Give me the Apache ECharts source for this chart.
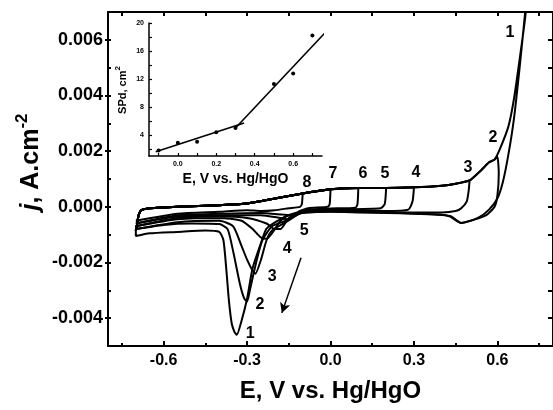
<!DOCTYPE html>
<html><head><meta charset="utf-8">
<script src="https://cdn.jsdelivr.net/npm/echarts@6/dist/echarts.min.js"></script>
<style>html,body{margin:0;padding:0;background:#fff}#c{width:553px;height:410px}</style>
</head><body><div id="c"></div>
<script>
// ---- main chart data: potential E (V vs Hg/HgO), current density j (A/cm2)
// common anodic (forward) sweep
const anodicE = [-0.70,-0.695,-0.69,-0.68,-0.65,-0.60,-0.50,-0.40,-0.30,-0.20,-0.10,0.00,0.10,0.20,0.30,0.40,0.45,0.50,0.54,0.57,0.59,0.61,0.64,0.66,0.68,0.70];
const anodicJ = [-0.00085,-0.0006,-0.0003,-0.00012,-0.00005,-0.00002,0.00002,0.00006,0.00012,0.0003,0.00048,0.00063,0.00068,0.00068,0.0007,0.00076,0.00083,0.00095,0.0013,0.0016,0.0017,0.0021,0.0029,0.0039,0.0053,0.0068];
// reverse sweeps, one per curve (starting at the anodic vertex)
const rev1E = [0.715,0.70,0.68,0.66,0.64,0.62,0.60,0.57,0.53,0.47,0.43,0.40,0.30,0.20,0.10,0.00,-0.10,-0.15,-0.19,-0.23,-0.25,-0.28,-0.30,-0.32,-0.337,-0.345,-0.355,-0.365,-0.375,-0.385,-0.40,-0.45,-0.55,-0.65,-0.70,-0.70];
const rev1J = [0.0085,0.0070,0.0050,0.0032,0.0019,0.0009,0.0003,-0.0001,-0.0004,-0.00058,-0.00035,-0.00028,-0.00025,-0.00022,-0.0002,-0.00018,-0.00022,-0.0003,-0.0005,-0.00078,-0.0013,-0.0022,-0.0033,-0.0041,-0.0046,-0.0045,-0.0042,-0.0034,-0.0022,-0.0012,-0.0009,-0.00085,-0.0009,-0.00095,-0.00105,-0.00085];
const rev2E = [0.60,0.605,0.60,0.59,0.56,0.52,0.47,0.43,0.30,0.00,-0.10,-0.16,-0.21,-0.245,-0.265,-0.29,-0.30,-0.31,-0.325,-0.35,-0.37,-0.40,-0.50,-0.60,-0.70];
const rev2J = [0.0018,0.0012,0.0004,0.0000,-0.0003,-0.00045,-0.00058,-0.00033,-0.00024,-0.00017,-0.0002,-0.0005,-0.0007,-0.0012,-0.0019,-0.0030,-0.0034,-0.0033,-0.0028,-0.0016,-0.0008,-0.00062,-0.0006,-0.00065,-0.0008];
const rev3E = [0.50,0.497,0.49,0.47,0.45,0.40,0.30,0.00,-0.10,-0.16,-0.21,-0.23,-0.25,-0.27,-0.28,-0.30,-0.32,-0.35,-0.40,-0.55,-0.70];
const rev3J = [0.00095,0.0006,0.0002,-0.00005,-0.00015,-0.0002,-0.0002,-0.00015,-0.0002,-0.00055,-0.00085,-0.0012,-0.0019,-0.0024,-0.0023,-0.0019,-0.0014,-0.0007,-0.0005,-0.00055,-0.0008];
const rev4E = [0.30,0.295,0.28,0.20,0.00,-0.10,-0.15,-0.18,-0.20,-0.23,-0.25,-0.28,-0.32,-0.40,-0.55,-0.70];
const rev4J = [0.0007,0.0002,-0.0001,-0.00015,-0.00012,-0.00018,-0.0003,-0.0005,-0.0008,-0.00115,-0.0011,-0.0008,-0.0005,-0.0004,-0.00045,-0.0007];
const rev5E = [0.20,0.195,0.18,0.00,-0.10,-0.15,-0.18,-0.20,-0.23,-0.30,-0.40,-0.55,-0.70];
const rev5J = [0.00068,0.0001,-0.00005,-0.0001,-0.00015,-0.0004,-0.0008,-0.0008,-0.0006,-0.0004,-0.00035,-0.0004,-0.0007];
const rev6E = [0.10,0.097,0.09,0.00,-0.08,-0.12,-0.15,-0.18,-0.25,-0.40,-0.55,-0.70];
const rev6J = [0.00068,0.0001,-0.00003,-0.00006,-0.0001,-0.00025,-0.00045,-0.0004,-0.0003,-0.0003,-0.00035,-0.0006];
const rev7E = [0.00,-0.003,-0.01,-0.08,-0.11,-0.14,-0.17,-0.25,-0.40,-0.55,-0.70];
const rev7J = [0.00063,0.0001,0.0000,-0.00005,-0.00015,-0.0003,-0.00028,-0.00022,-0.00025,-0.0003,-0.0006];
const rev8E = [-0.10,-0.103,-0.11,-0.15,-0.20,-0.25,-0.30,-0.40,-0.55,-0.70];
const rev8J = [0.00048,0.0001,0.0000,-0.00005,-0.00012,-0.00015,-0.00012,-0.00018,-0.00025,-0.0005];

// curve annotations
const topLabels = ['1','2','3','4','5','6','7','8'];
const topLabelE = [0.645,0.584,0.494,0.307,0.196,0.117,0.009,-0.085];
const topLabelJ = [0.00626,0.00248,0.0014,0.00122,0.00119,0.00119,0.00119,0.00086];
const lowLabels = ['5','4','3','2','1'];
const lowLabelE = [-0.095,-0.156,-0.21,-0.254,-0.289];
const lowLabelJ = [-0.00086,-0.00151,-0.00252,-0.00353,-0.00457];
const arrowE = [-0.106,-0.175];
const arrowJ = [-0.00183,-0.00381];

// tick values
const xTickMajor = [-0.6,-0.3,0.0,0.3,0.6];
const xTickMinor = [-0.75,-0.45,-0.15,0.15,0.45,0.75];
const xTickAll = [-0.75,-0.6,-0.45,-0.3,-0.15,0,0.15,0.3,0.45,0.6,0.75];
const yTickMajor = [-0.004,-0.002,0.000,0.002,0.004,0.006];
const yTickAll = [-0.004,-0.003,-0.002,-0.001,0,0.001,0.002,0.003,0.004,0.005,0.006];

// ---- inset data: Pd surface area vs anodic limit
const insetE = [-0.1,0.0,0.1,0.2,0.3,0.5,0.6,0.7];
const insetS = [1.8,2.9,3.05,4.4,5.0,11.3,12.8,18.2];
const fit1E = [-0.115,0.345];
const fit1S = [1.6,5.7];
const fit2E = [0.30,0.80];
const fit2S = [5.0,19.6];
const insetXLabels = [0.0,0.2,0.4,0.6];
const insetXTicks = [-0.1,0.0,0.1,0.2,0.3,0.4,0.5,0.6,0.7];
const insetYLabels = [4,8,12,16,20];
const insetYTicks = [2,4,6,8,10,12,14,16,18,20];

const FONT = '"Liberation Sans", Arial, Helvetica, sans-serif';
const zip = (a, b) => a.map((v, i) => [v, b[i]]);
function buildCurve(revE, revJ) {
  const pts = [];
  for (let i = 0; i < anodicE.length; i++) if (anodicE[i] < revE[0]) pts.push([anodicE[i], anodicJ[i]]);
  return pts.concat(zip(revE, revJ));
}
const curves = [
  buildCurve(rev1E, rev1J), buildCurve(rev2E, rev2J), buildCurve(rev3E, rev3J), buildCurve(rev4E, rev4J),
  buildCurve(rev5E, rev5J), buildCurve(rev6E, rev6J), buildCurve(rev7E, rev7J), buildCurve(rev8E, rev8J)
];

const black = '#000';
const chart = echarts.init(document.getElementById('c'), null, {renderer: 'canvas'});
const series = curves.map((d, i) => ({
  type: 'line', name: 'c' + (i + 1), xAxisIndex: 0, yAxisIndex: 0, data: d,
  showSymbol: false, symbol: 'none', smooth: 0.2, animation: false,
  lineStyle: {color: black, width: 2}
}));
const lblStyle = {show: true, position: 'inside', formatter: p => p.data.name, color: black,
  textBorderWidth: 0, opacity: 1, fontFamily: FONT, fontWeight: 'bold', fontSize: 16};
series.push({
  type: 'scatter', xAxisIndex: 0, yAxisIndex: 0, symbolSize: 0, animation: false, silent: true,
  itemStyle: {opacity: 1, color: black},
  data: topLabels.map((t, i) => ({name: t, value: [topLabelE[i], topLabelJ[i]]}))
    .concat(lowLabels.map((t, i) => ({name: t, value: [lowLabelE[i], lowLabelJ[i]]}))),
  label: lblStyle,
  markLine: {
    silent: true, animation: false, symbol: ['none', 'arrow'], symbolSize: [8, 10],
    label: {show: false}, lineStyle: {color: black, width: 1.5, type: 'solid', opacity: 1},
    data: [[{coord: [arrowE[0], arrowJ[0]]}, {coord: [arrowE[1], arrowJ[1]]}]]
  }
});
series.push({type: 'scatter', xAxisIndex: 3, yAxisIndex: 3, data: zip(insetE, insetS),
  symbolSize: 4, itemStyle: {color: black, opacity: 1}, animation: false});
series.push({type: 'line', xAxisIndex: 3, yAxisIndex: 3, data: zip(fit1E, fit1S), symbol: 'none',
  lineStyle: {color: black, width: 1.6}, clip: false, animation: false});
series.push({type: 'line', xAxisIndex: 3, yAxisIndex: 3, data: zip(fit2E, fit2S), symbol: 'none',
  lineStyle: {color: black, width: 1.6}, clip: false, animation: false});

const axLine = {show: true, onZero: false, lineStyle: {color: black, width: 2}};
const noLine = {show: false, onZero: false};
const baseX = {type: 'value', min: -0.8, max: 0.8, gridIndex: 0, splitLine: {show: false}};
const baseY = {type: 'value', min: -0.005, max: 0.007, gridIndex: 0, splitLine: {show: false}};

chart.setOption({
  animation: false,
  backgroundColor: '#fff',
  grid: [
    {left: 108, top: 12, right: 0, bottom: 64},
    {left: 149, top: 23, width: 173, height: 133}
  ],
  xAxis: [
    Object.assign({}, baseX, {position: 'bottom', axisLine: axLine,
      axisTick: {show: true, inside: true, length: 5, customValues: xTickMajor, lineStyle: {color: black, width: 2}},
      axisLabel: {show: true, customValues: xTickMajor, formatter: v => v.toFixed(1), color: black,
        fontFamily: FONT, fontWeight: 'bold', fontSize: 16, margin: 7},
      name: 'E, V vs. Hg/HgO', nameLocation: 'middle', nameGap: 33,
      nameTextStyle: {color: black, fontFamily: FONT, fontWeight: 'bold', fontSize: 24}}),
    Object.assign({}, baseX, {position: 'bottom', axisLine: noLine,
      axisTick: {show: true, inside: true, length: 3, customValues: xTickMinor, lineStyle: {color: black, width: 2}},
      axisLabel: {show: false}}),
    Object.assign({}, baseX, {position: 'top', axisLine: axLine,
      axisTick: {show: true, inside: true, length: 4, customValues: xTickAll, lineStyle: {color: black, width: 2}},
      axisLabel: {show: false}}),
    {type: 'value', gridIndex: 1, min: -0.15, max: 0.75, position: 'bottom',
      axisLine: {show: true, onZero: false, lineStyle: {color: black, width: 1.5}}, splitLine: {show: false},
      axisTick: {show: true, inside: true, length: 3, customValues: insetXTicks, lineStyle: {color: black, width: 1.2}},
      axisLabel: {show: true, customValues: insetXLabels, formatter: v => v.toFixed(1), color: black,
        fontFamily: FONT, fontWeight: 'bold', fontSize: 7, margin: 5},
      name: 'E, V vs. Hg/HgO', nameLocation: 'middle', nameGap: 16,
      nameTextStyle: {color: black, fontFamily: FONT, fontWeight: 'bold', fontSize: 14}}
  ],
  yAxis: [
    Object.assign({}, baseY, {position: 'left', axisLine: axLine,
      axisTick: {show: true, inside: false, length: 3, customValues: yTickMajor, lineStyle: {color: black, width: 2}},
      axisLabel: {show: true, customValues: yTickMajor, formatter: v => v.toFixed(3), color: black,
        fontFamily: FONT, fontWeight: 'bold', fontSize: 18, margin: 5}}),
    Object.assign({}, baseY, {position: 'left', axisLine: noLine,
      axisTick: {show: true, inside: true, length: 3, customValues: yTickAll, lineStyle: {color: black, width: 2}},
      axisLabel: {show: false}}),
    Object.assign({}, baseY, {position: 'right', axisLine: axLine,
      axisTick: {show: true, inside: true, length: 5, customValues: yTickAll, lineStyle: {color: black, width: 2}},
      axisLabel: {show: false}}),
    {type: 'value', gridIndex: 1, min: 1, max: 20, position: 'left',
      axisLine: {show: true, onZero: false, lineStyle: {color: black, width: 1.5}}, splitLine: {show: false},
      axisTick: {show: true, inside: true, length: 3, customValues: insetYTicks, lineStyle: {color: black, width: 1.2}},
      axisLabel: {show: true, customValues: insetYLabels, color: black,
        fontFamily: FONT, fontWeight: 'bold', fontSize: 7, margin: 5}}
  ],
  graphic: [
    {type: 'text', x: 29, y: 162, rotation: Math.PI / 2, silent: true,
      style: {text: '{i|j}{n|, A.cm}{s|-2}', align: 'center', verticalAlign: 'middle', fill: black,
        rich: {
          i: {fontFamily: FONT, fontWeight: 'bold', fontStyle: 'italic', fontSize: 25, fill: black, lineHeight: 30, verticalAlign: 'bottom'},
          n: {fontFamily: FONT, fontWeight: 'bold', fontSize: 25, fill: black, lineHeight: 30, verticalAlign: 'bottom'},
          s: {fontFamily: FONT, fontWeight: 'bold', fontSize: 17, fill: black, lineHeight: 30, verticalAlign: 'top'}
        }}},
    {type: 'text', x: 121, y: 90, rotation: Math.PI / 2, silent: true,
      style: {text: '{n|SPd, cm}{s|2}', align: 'center', verticalAlign: 'middle', fill: black,
        rich: {
          n: {fontFamily: FONT, fontWeight: 'bold', fontSize: 11, fill: black, lineHeight: 14, verticalAlign: 'bottom'},
          s: {fontFamily: FONT, fontWeight: 'bold', fontSize: 8, fill: black, lineHeight: 14, verticalAlign: 'top'}
        }}}
  ],
  series: series
});
</script></body></html>
